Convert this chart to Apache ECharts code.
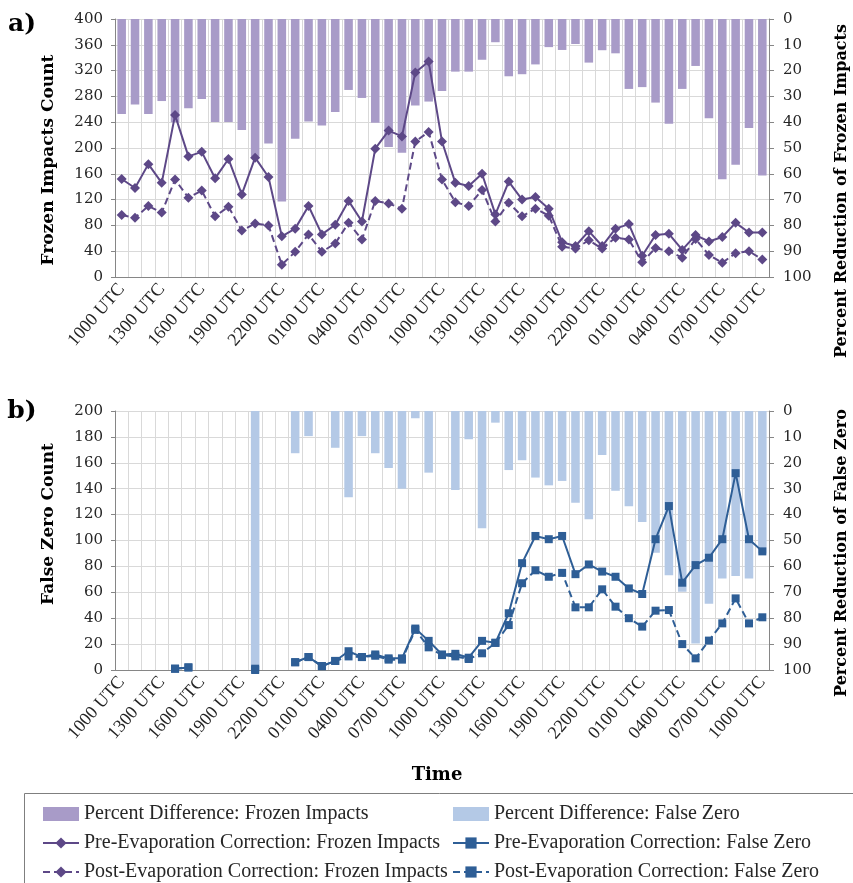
<!DOCTYPE html>
<html>
<head>
<meta charset="utf-8">
<script src="https://cdn.jsdelivr.net/npm/echarts@6/dist/echarts.min.js"></script>
<style>
html,body{margin:0;padding:0;background:#fff;}
#chart{width:853px;height:883px;}
</style>
</head>
<body>
<div id="chart"></div>
<script>
const categories = ['1000 UTC','1100 UTC','1200 UTC','1300 UTC','1400 UTC','1500 UTC','1600 UTC','1700 UTC','1800 UTC','1900 UTC',
  '2000 UTC','2100 UTC','2200 UTC','2300 UTC','0000 UTC','0100 UTC','0200 UTC','0300 UTC','0400 UTC','0500 UTC',
  '0600 UTC','0700 UTC','0800 UTC','0900 UTC','1000 UTC','1100 UTC','1200 UTC','1300 UTC','1400 UTC','1500 UTC',
  '1600 UTC','1700 UTC','1800 UTC','1900 UTC','2000 UTC','2100 UTC','2200 UTC','2300 UTC','0000 UTC','0100 UTC',
  '0200 UTC','0300 UTC','0400 UTC','0500 UTC','0600 UTC','0700 UTC','0800 UTC','0900 UTC','1000 UTC'];

const frozenPct = [36.8,33.1,36.8,31.8,40,34.6,31.0,39.9,39.9,43.0,
  53.4,48.3,70.7,46.4,39.7,41.3,36.0,27.5,30.6,40.2,
  49.6,51.8,33.5,32.0,27.9,20.4,20.4,15.8,9.0,22.2,
  21.4,17.6,10.9,12.0,9.7,16.9,12.1,13.3,27.1,26.4,
  32.4,40.6,27.1,18.2,38.5,62.1,56.5,42.2,60.7];
const frozenPre = [152,138,175,146,251,187,194,153,183,128,
  185,155,63,75,110,66,81,118,86,199,
  227,218,317,334,210,146,141,160,97,148,
  120,124,106,54,48,71,48,75,82,33,
  65,67,42,65,55,62,84,69,69];
const frozenPost = [96,92,110,100,151,123,134,94,109,72,
  83,80,19,39,66,39,52,84,58,118,
  114,106,210,225,151,116,110,135,86,115,
  94,106,95,47,44,57,44,61,58,23,
  45,40,30,59,34,22,37,40,27];

const fzPct = [null,null,null,null,null,null,null,null,null,null,
  100,null,null,16.3,9.7,null,14.2,33.3,9.7,16.3,
  22.0,30.0,2.8,23.8,null,30.5,10.9,45.3,4.5,22.8,
  19.0,25.7,28.7,27.0,35.4,41.8,17.0,30.8,36.8,42.9,
  54.7,63.4,69.8,89.8,74.4,64.7,63.7,64.7,55.0];
const fzPre = [null,null,null,null,1,2,null,null,null,null,
  1,null,null,6,10,3,7,14.5,10,12,
  9,9,32,22.5,12,12.5,9.5,22.5,21,43.8,
  82.5,103.5,101,103.5,74,81.5,76,72,63,58.7,
  101,126.6,67.4,81,86.7,101,152,101,91.6];
const fzPost = [null,null,null,null,1,2,null,null,null,null,
  0,null,null,6,10,3,7,10.5,10,11,
  8,8,31,17.5,11.5,10.5,8.5,12.9,21,34.7,
  67,77,72,75,48.4,48.4,62.3,48.9,40,33.5,
  45.8,46.3,20,9,22.7,36,55.3,36,40.7];

const leftTicks1 = {min:0, max:400, interval:40};
const leftTicks2 = {min:0, max:200, interval:20};
const rightTicks = {min:0, max:100, interval:10};

const purpleBar = '#a89bc8';
const purpleLine = '#5d4887';
const blueBar = '#b4c9e6';
const blueLine = '#2e5e96';
const axisCol = '#868686';
const gridCol = '#d9d9d9';
const txtCol = '#262626';

function xAxisCfg(gi){
  return {
    type:'category', gridIndex:gi, data:categories, boundaryGap:true,
    axisLine:{lineStyle:{color:axisCol}},
    axisTick:{interval:0, length:7, lineStyle:{color:axisCol}},
    splitLine:{show:true, interval:0, lineStyle:{color:gridCol}},
    axisLabel:{interval:2, rotate:49, fontFamily:'Liberation Serif', fontSize:18, color:txtCol, margin:9}
  };
}
function leftY(gi, t){
  return {
    type:'value', gridIndex:gi, position:'left', min:t.min, max:t.max, interval:t.interval,
    axisLine:{show:true, lineStyle:{color:axisCol}},
    axisTick:{show:true, length:4, lineStyle:{color:axisCol}},
    splitLine:{show:true, lineStyle:{color:gridCol}},
    axisLabel:{fontFamily:'DejaVu Serif', fontSize:15, color:txtCol, margin:12}
  };
}
function rightY(gi){
  return {
    type:'value', gridIndex:gi, position:'right', inverse:true, min:rightTicks.min, max:rightTicks.max, interval:rightTicks.interval,
    axisLine:{show:true, lineStyle:{color:axisCol}},
    axisTick:{show:true, length:5, lineStyle:{color:axisCol}},
    splitLine:{show:false},
    axisLabel:{fontFamily:'DejaVu Serif', fontSize:15, color:txtCol, margin:14}
  };
}

const titleFont = 'bold 17px "DejaVu Serif"';
const legendText = {fontFamily:'Liberation Serif', fontSize:20, color:txtCol, lineHeight:14};

const option = {
  animation:false,
  backgroundColor:'#fff',
  grid:[
    {left:115, top:19, width:654, height:258},
    {left:115, top:411, width:654, height:259}
  ],
  xAxis:[xAxisCfg(0), xAxisCfg(1)],
  yAxis:[leftY(0,leftTicks1), rightY(0), leftY(1,leftTicks2), rightY(1)],
  legend:[
    {orient:'vertical', left:42, top:804, height:90, padding:0, itemWidth:36, itemHeight:14, itemGap:9,
     textStyle:legendText,
     data:[{name:'Percent Difference: Frozen Impacts', icon:'rect'},
           'Pre-Evaporation Correction: Frozen Impacts',
           'Post-Evaporation Correction: Frozen Impacts']},
    {orient:'vertical', left:452, top:804, height:90, padding:0, itemWidth:36, itemHeight:14, itemGap:9,
     textStyle:legendText,
     data:[{name:'Percent Difference: False Zero', icon:'rect'},
           'Pre-Evaporation Correction: False Zero',
           'Post-Evaporation Correction: False Zero']}
  ],
  series:[
    {name:'Percent Difference: Frozen Impacts', type:'bar', xAxisIndex:0, yAxisIndex:1, data:frozenPct,
     barWidth:'64%', itemStyle:{color:purpleBar}, z:1},
    {name:'Pre-Evaporation Correction: Frozen Impacts', type:'line', xAxisIndex:0, yAxisIndex:0, data:frozenPre,
     symbol:'diamond', symbolSize:10, showAllSymbol:true, lineStyle:{color:purpleLine, width:2}, itemStyle:{color:purpleLine}, z:3},
    {name:'Post-Evaporation Correction: Frozen Impacts', type:'line', xAxisIndex:0, yAxisIndex:0, data:frozenPost,
     symbol:'diamond', symbolSize:10, showAllSymbol:true, lineStyle:{color:purpleLine, width:2, type:[7,4]}, itemStyle:{color:purpleLine}, z:3},
    {name:'Percent Difference: False Zero', type:'bar', xAxisIndex:1, yAxisIndex:3, data:fzPct,
     barWidth:'64%', itemStyle:{color:blueBar}, z:1},
    {name:'Pre-Evaporation Correction: False Zero', type:'line', xAxisIndex:1, yAxisIndex:2, data:fzPre,
     symbol:'rect', symbolSize:8, showAllSymbol:true, connectNulls:false, lineStyle:{color:blueLine, width:2}, itemStyle:{color:blueLine}, z:3},
    {name:'Post-Evaporation Correction: False Zero', type:'line', xAxisIndex:1, yAxisIndex:2, data:fzPost,
     symbol:'rect', symbolSize:8, showAllSymbol:true, connectNulls:false, lineStyle:{color:blueLine, width:2, type:[7,4]}, itemStyle:{color:blueLine}, z:3}
  ],
  graphic:[
    {type:'rect', shape:{x:24.5, y:793.5, width:900, height:200}, style:{fill:'none', stroke:'#7f7f7f', lineWidth:1}, z:-1},
    {type:'text', x:22, y:24, style:{text:'a)', font:'bold 25px "DejaVu Serif"', fill:'#000', textAlign:'center', textVerticalAlign:'middle'}},
    {type:'text', x:22, y:411, style:{text:'b)', font:'bold 25px "DejaVu Serif"', fill:'#000', textAlign:'center', textVerticalAlign:'middle'}},
    {type:'text', x:49, y:160, rotation:Math.PI/2, style:{text:'Frozen Impacts Count', font:titleFont, fill:'#000', textAlign:'center', textVerticalAlign:'middle'}},
    {type:'text', x:49, y:524, rotation:Math.PI/2, style:{text:'False Zero Count', font:titleFont, fill:'#000', textAlign:'center', textVerticalAlign:'middle'}},
    {type:'text', x:842, y:191, rotation:Math.PI/2, style:{text:'Percent Reduction of Frozen Impacts', font:'bold 16px "DejaVu Serif"', fill:'#000', textAlign:'center', textVerticalAlign:'middle'}},
    {type:'text', x:842, y:553, rotation:Math.PI/2, style:{text:'Percent Reduction of False Zero', font:'bold 16px "DejaVu Serif"', fill:'#000', textAlign:'center', textVerticalAlign:'middle'}},
    {type:'text', x:437, y:775, style:{text:'Time', font:'bold 18px "DejaVu Serif"', fill:'#000', textAlign:'center', textVerticalAlign:'middle'}}
  ]
};

const chart = echarts.init(document.getElementById('chart'), null, {renderer:'canvas'});
chart.setOption(option);
</script>
</body>
</html>
